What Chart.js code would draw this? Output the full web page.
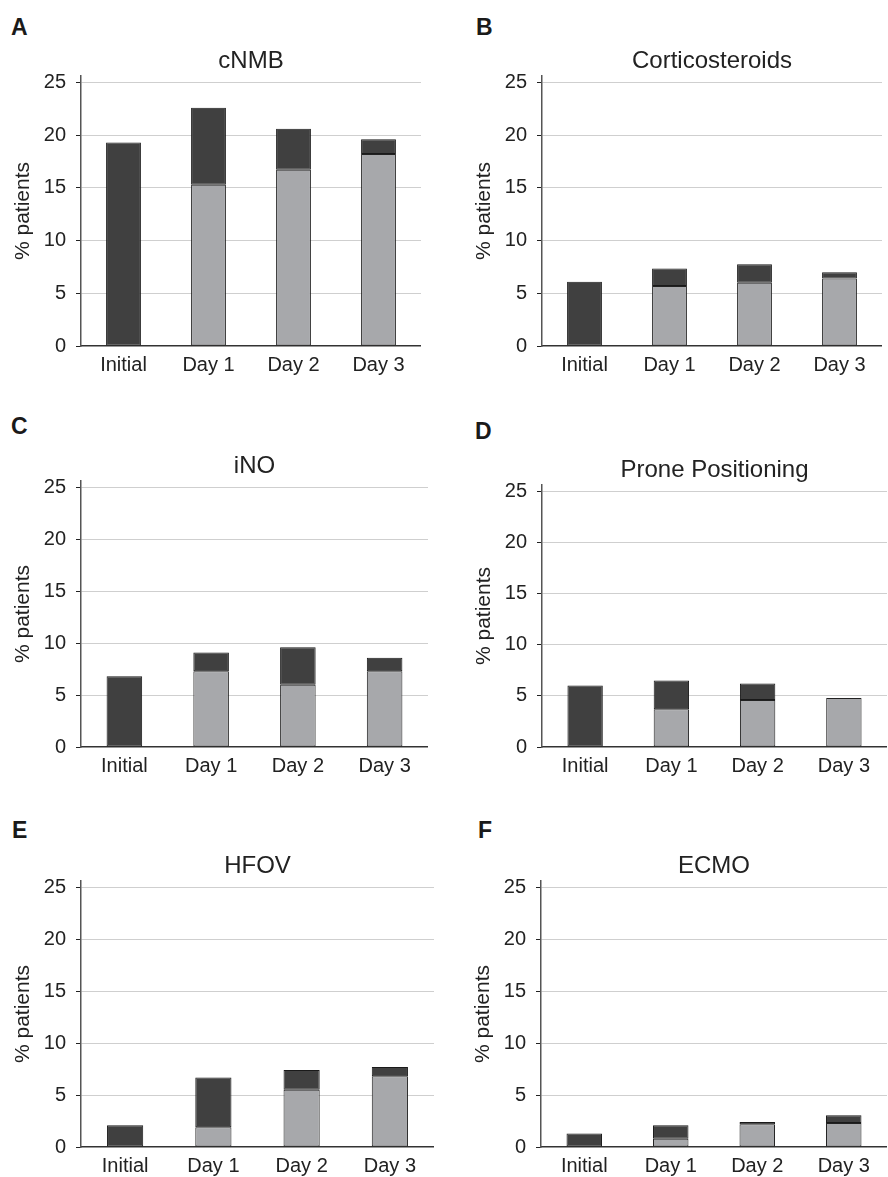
<!DOCTYPE html>
<html>
<head>
<meta charset="utf-8">
<script src="https://cdn.jsdelivr.net/npm/chart.js@4.4.1/dist/chart.umd.min.js"></script>
<style>
  html, body { margin: 0; padding: 0; background: #fff; overflow: hidden; }
  body { width: 888px; height: 1177px; position: relative; font-family: "Liberation Sans", Arial, sans-serif; }
  canvas { position: absolute; }
  .letter { position: absolute; font-weight: bold; font-size: 23px; line-height: 1; color: #1a1a1a; }
</style>
</head>
<body>
<div class="letter" style="left:11px;top:16px">A</div>
<div class="letter" style="left:476px;top:16px">B</div>
<div class="letter" style="left:11px;top:415px">C</div>
<div class="letter" style="left:475px;top:420px">D</div>
<div class="letter" style="left:12px;top:819px">E</div>
<div class="letter" style="left:478px;top:819px">F</div>

<script>
const days = ['Initial', 'Day 1', 'Day 2', 'Day 3'];
const yTicks = [0, 5, 10, 15, 20, 25];

// light grey = continued from previous day, dark = newly started
const cnmbOngoing = [null, 15.3, 16.7, 18.2];
const cnmbNew = [19.3, 7.3, 3.9, 1.4];

const steroidOngoing = [null, 5.7, 6.0, 6.4];
const steroidNew = [6.1, 1.65, 1.75, 0.6];

const inoOngoing = [null, 7.3, 6.0, 7.3];
const inoNew = [6.8, 1.8, 3.6, 1.3];

const proneOngoing = [null, 3.7, 4.6, 4.8];
const proneNew = [6.0, 2.8, 1.6, null];

const hfovOngoing = [null, 1.9, 5.5, 6.8];
const hfovNew = [2.1, 4.8, 1.9, 0.9];

const ecmoOngoing = [null, 0.8, 2.2, 2.3];
const ecmoNew = [1.3, 1.3, 0.2, 0.75];

const textColor = '#222';
const font = '"Liberation Sans", Arial, sans-serif';

// where each plot sits on the page: y axis x, right edge, y of 25 and y of 0
function makePanel(title, ongoing, newer, ax, right, y25, y0) {
  const unit = (y0 - y25) / 25;
  const areaTop = y25 - 0.6 * unit;
  const left = ax - 78;
  const top = areaTop - 27;
  const width = right - left;
  const height = y0 + 36 - top;

  const canvas = document.createElement('canvas');
  canvas.width = Math.round(width);
  canvas.height = Math.round(height);
  canvas.style.left = left + 'px';
  canvas.style.top = top + 'px';
  document.body.appendChild(canvas);

  new Chart(canvas, {
    type: 'bar',
    data: {
      labels: days,
      datasets: [
        {
          label: 'Continued',
          data: ongoing,
          backgroundColor: '#a7a8ab',
          borderColor: '#222',
          borderWidth: 1,
          borderSkipped: false,
          barPercentage: 0.41,
          categoryPercentage: 1
        },
        {
          label: 'New',
          data: newer,
          backgroundColor: '#404040',
          borderColor: '#1a1a1a',
          borderWidth: 1,
          borderSkipped: false,
          barPercentage: 0.41,
          categoryPercentage: 1
        }
      ]
    },
    options: {
      responsive: false,
      animation: false,
      devicePixelRatio: 1,
      layout: { padding: 0 },
      plugins: {
        legend: { display: false },
        tooltip: { enabled: false },
        title: {
          display: true,
          fullSize: false,
          text: title,
          color: textColor,
          font: { family: font, size: 24, weight: 'normal', lineHeight: 1 },
          padding: { top: 0, bottom: 3 }
        }
      },
      scales: {
        x: {
          stacked: true,
          grid: { display: false, drawTicks: false },
          border: { display: true, color: '#333', width: 1.5 },
          ticks: { color: textColor, font: { family: font, size: 20 }, padding: 7 },
          afterFit: s => { s.height = 36; }
        },
        y: {
          stacked: true,
          min: 0,
          max: 25.6,
          afterBuildTicks: s => { s.ticks = yTicks.map(v => ({ value: v })); },
          afterFit: s => { s.width = 78; },
          grid: {
            color: c => (c.tick && c.tick.value === 0) ? 'rgba(0,0,0,0)' : '#cfcfcf',
            lineWidth: 1,
            tickColor: '#222',
            tickLength: 5
          },
          border: { display: true, color: '#555', width: 1.5 },
          ticks: { color: textColor, font: { family: font, size: 20 }, padding: 10 },
          title: {
            display: true,
            text: '% patients',
            color: textColor,
            font: { family: font, size: 21 },
            padding: { top: 8, bottom: 0 }
          }
        }
      }
    }
  });
}

makePanel('cNMB', cnmbOngoing, cnmbNew, 81, 421, 82.3, 346);
makePanel('Corticosteroids', steroidOngoing, steroidNew, 542, 882, 82.3, 346);
makePanel('iNO', inoOngoing, inoNew, 81, 428, 487, 746.7);
makePanel('Prone Positioning', proneOngoing, proneNew, 541.7, 887, 491.3, 746.7);
makePanel('HFOV', hfovOngoing, hfovNew, 81, 434, 887.7, 1147.3);
makePanel('ECMO', ecmoOngoing, ecmoNew, 540.7, 887, 887.3, 1147.3);
</script>
</body>
</html>
